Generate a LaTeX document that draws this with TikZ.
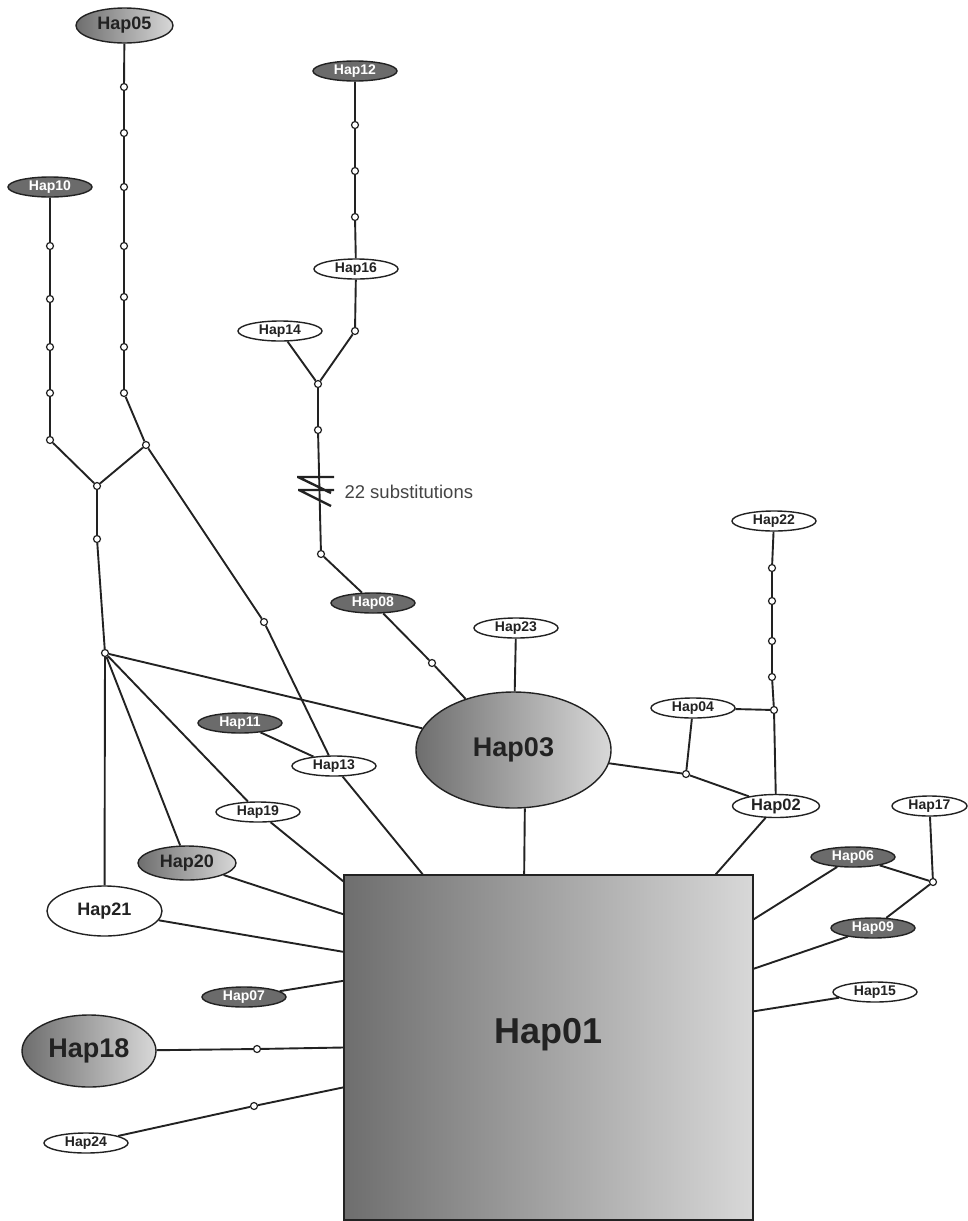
\documentclass[tikz,border=0pt]{standalone}
\usepackage{fontspec}
\setmainfont{Liberation Sans}
\usetikzlibrary{shapes.geometric}

\definecolor{hapdark}{HTML}{6B6B6B}
\definecolor{shleft}{HTML}{6E6E6E}
\definecolor{shright}{HTML}{D8D8D8}
\definecolor{inkcol}{HTML}{222222}
\definecolor{notecol}{HTML}{444444}

\tikzset{
    hap/.style={ellipse, draw=inkcol, line width=1.4pt, fill=white, text=inkcol, inner sep=0pt,
        minimum width=84pt, minimum height=20pt, font=\bfseries\fontsize{14}{14}\selectfont},
    hapdk/.style={hap, fill=hapdark, text=white},
    hapsh/.style={hap, left color=shleft, right color=shright},
    mut/.style={circle, draw=inkcol, fill=white, line width=1.2pt, inner sep=0pt, minimum size=7pt},
    link/.style={draw=inkcol, line width=1.9pt}
}

\begin{document}
\begin{tikzpicture}[x=1pt, y=-1pt]
    \useasboundingbox (0,0) rectangle (967,1221);

    % haplotypes
    \node [hapsh, minimum width=97pt, minimum height=35pt, font=\bfseries\fontsize{18}{18}\selectfont] (hap05) at (124.5,25.5) {Hap05};
    \node [hapdk] (hap10) at (50,187) {Hap10};
    \node [hapdk] (hap12) at (355,71) {Hap12};
    \node [hap] (hap16) at (356,269) {Hap16};
    \node [hap] (hap14) at (280,331) {Hap14};
    \node [hap] (hap22) at (774,521) {Hap22};
    \node [hap] (hap23) at (516,628) {Hap23};
    \node [hapdk] (hap08) at (373,603) {Hap08};
    \node [hap] (hap04) at (693,708) {Hap04};
    \node [hapsh, minimum width=195pt, minimum height=116pt, font=\bfseries\fontsize{27}{27}\selectfont] (hap03) at (513.5,750) {Hap03};
    \node [hapdk] (hap11) at (240,723) {Hap11};
    \node [hap] (hap13) at (334,766) {Hap13};
    \node [hap] (hap19) at (258,812) {Hap19};
    \node [hap, minimum width=87pt, minimum height=23pt, font=\bfseries\fontsize{16.5}{16.5}\selectfont] (hap02) at (776,806) {Hap02};
    \node [hap, minimum width=75pt] (hap17) at (929.5,806) {Hap17};
    \node [hapsh, minimum width=98pt, minimum height=34pt, font=\bfseries\fontsize{18}{18}\selectfont] (hap20) at (187,863) {Hap20};
    \node [hapdk] (hap06) at (853,857) {Hap06};
    \node [hap, minimum width=115pt, minimum height=50pt, font=\bfseries\fontsize{18}{18}\selectfont] (hap21) at (104.5,911) {Hap21};
    \node [hapdk] (hap09) at (873,928) {Hap09};
    \node [hap] (hap15) at (875,992) {Hap15};
    \node [hapdk] (hap07) at (244,997) {Hap07};
    \node [hapsh, minimum width=134pt, minimum height=72pt, font=\bfseries\fontsize{27}{27}\selectfont] (hap18) at (89,1051) {Hap18};
    \node [hap] (hap24) at (86,1143) {Hap24};
    \node [draw=inkcol, line width=1.4pt, left color=shleft, right color=shright, text=inkcol,
        minimum width=409pt, minimum height=345pt, inner sep=0pt, text depth=34pt,
        font=\bfseries\fontsize{36}{36}\selectfont] (hap01) at (548.5,1047.5) {Hap01};

    % median vectors
    \foreach \y [count=\i] in {87,133,187,246,297,347,393}
        \node [mut] (a\i) at (124,\y) {};
    \foreach \y [count=\i] in {246,299,347,393,440}
        \node [mut] (b\i) at (50,\y) {};
    \foreach \y [count=\i] in {125,171,217}
        \node [mut] (c\i) at (355,\y) {};
    \foreach \y [count=\i] in {568,601,641,677}
        \node [mut] (e\i) at (772,\y) {};
    \node [mut] (c4) at (355,331) {};
    \node [mut] (ja) at (146,445) {};
    \node [mut] (jb) at (97,486) {};
    \node [mut] (jb1) at (97,539) {};
    \node [mut] (jc) at (105,653) {};
    \node [mut] (d13) at (264,622) {};
    \node [mut] (jd) at (318,384) {};
    \node [mut] (jd1) at (318,430) {};
    \node [mut] (jd2) at (321,554) {};
    \node [mut] (d08) at (432,663) {};
    \node [mut] (jg) at (774,710) {};
    \node [mut] (je) at (686,774) {};
    \node [mut] (jf) at (933,882) {};
    \node [mut] (d18) at (257,1049) {};
    \node [mut] (d24) at (254,1106) {};

    % left part
    \draw [link] (hap05) -- (a1) -- (a2) -- (a3) -- (a4) -- (a5) -- (a6) -- (a7) -- (ja);
    \draw [link] (hap10) -- (b1) -- (b2) -- (b3) -- (b4) -- (b5) -- (jb);
    \draw [link] (ja) -- (jb);
    \draw [link] (jb) -- (jb1) -- (jc);
    \draw [link] (ja) -- (d13) -- (hap13);
    \draw [link] (hap13) -- (hap01.126);
    \draw [link] (hap11) -- (hap13);
    \draw [link] (jc) -- (hap03);
    \draw [link] (jc) -- (hap19);
    \draw [link] (jc) -- (hap20);
    \draw [link] (jc) -- (hap21);
    \draw [link] (hap19) -- (hap01.141);
    \draw [link] (hap20) -- (hap01.147);
    \draw [link] (hap21) -- (hap01.155);
    \draw [link] (hap07) -- (hap01.162.5);
    \draw [link] (hap18) -- (d18) -- (hap01.180);
    \draw [link] (hap24) -- (d24) -- (hap01.191);

    % middle part
    \draw [link] (hap12) -- (c1) -- (c2) -- (c3) -- (hap16) -- (c4) -- (jd);
    \draw [link] (hap14) -- (jd);
    \draw [link] (jd) -- (jd1) -- (jd2) -- (hap08) -- (d08) -- (hap03);
    \draw [link, line width=2.4pt] (297,477) -- (334,477) (298,477) -- (331,493)
        (298,490) -- (334,490) (299,490) -- (331,506);
    \node [anchor=west, text=notecol, font=\fontsize{18.5}{18.5}\selectfont] (subst) at (341,492) {22 substitutions};
    \draw [link] (hap23) -- (hap03);
    \draw [link] (hap03.-79) -- (hap01.98);

    % right part
    \draw [link] (hap03) -- (je);
    \draw [link] (je) -- (hap04);
    \draw [link] (je) -- (hap02);
    \draw [link] (hap04) -- (jg);
    \draw [link] (hap22) -- (e1) -- (e2) -- (e3) -- (e4) -- (jg) -- (hap02);
    \draw [link] (hap02) -- (hap01.46);
    \draw [link] (hap17) -- (jf);
    \draw [link] (jf) -- (hap06);
    \draw [link] (jf) -- (hap09);
    \draw [link] (hap06) -- (hap01.32);
    \draw [link] (hap09) -- (hap01.21);
    \draw [link] (hap15) -- (hap01.10);

\end{tikzpicture}
\end{document}
